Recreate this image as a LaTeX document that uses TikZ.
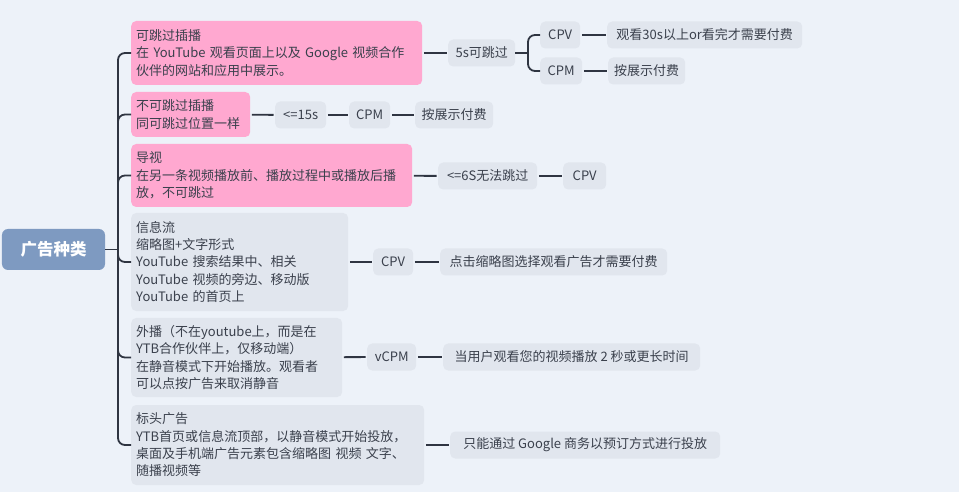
\documentclass[tikz,border=0pt]{standalone}
\usepackage{fontspec}
\setmainfont{Noto Sans CJK SC}

\definecolor{bgcol}{HTML}{EDF2F9}
\definecolor{pinkcol}{HTML}{FFA8D0}
\definecolor{graycol}{HTML}{E1E6EE}
\definecolor{rootcol}{HTML}{7E9AC1}
\definecolor{linecol}{HTML}{2F3542}
\definecolor{txtcol}{HTML}{3A404C}

\begin{document}
\begin{tikzpicture}[x=1bp, y=-1bp,
    every node/.style={font=\fontsize{13bp}{17.3bp}\selectfont, text=txtcol},
    rootbox/.style={fill=rootcol, rounded corners=6bp, minimum width=103bp, minimum height=41bp,
      font=\fontsize{16.5bp}{19bp}\selectfont\bfseries, text=white},
    pinkbox/.style={fill=pinkcol, rounded corners=5bp, anchor=west, align=left, inner xsep=5bp},
    graybox/.style={fill=graycol, rounded corners=5bp, anchor=west, align=left, inner xsep=5bp},
    leaf/.style={fill=graycol, rounded corners=5bp, anchor=west, minimum height=27bp,
      inner xsep=3bp, minimum width=#1},
    leaf/.default=40bp,
    link/.style={draw=linecol, line width=1.8bp, shorten <=1.5bp, shorten >=1.5bp},
    branch/.style={draw=linecol, line width=1.8bp, rounded corners=7bp},
  ]
      \fill[bgcol] (0, 0) rectangle (959, 492);
      \useasboundingbox (0, 0) rectangle (959, 492);

      \coordinate (hub) at (118, 249.5);
      \coordinate (skipHub) at (528, 53);

      \node[rootbox] (root) at (53.5, 249.5) {广告种类};

      \node[pinkbox, text width=281bp, minimum height=64bp] (skip) at (131, 53)
        {可跳过插播\\在 YouTube 观看页面上以及 Google 视频合作\\伙伴的网站和应用中展示。};
      \node[pinkbox, text width=109bp, minimum height=45bp] (noskip) at (131, 114.5)
        {不可跳过插播\\同可跳过位置一样};
      \node[pinkbox, text width=271bp, minimum height=63bp] (bumper) at (131, 175.5)
        {导视\\在另一条视频播放前、播放过程中或播放后播\\放，不可跳过};
      \node[graybox, text width=207bp, minimum height=98bp] (feed) at (131, 262)
        {信息流\\缩略图+文字形式\\YouTube 搜索结果中、相关\\YouTube 视频的旁边、移动版\\YouTube 的首页上};
      \node[graybox, text width=201bp, minimum height=79bp] (outstream) at (131, 357.5)
        {外播（不在youtube上，而是在\\YTB合作伙伴上，仅移动端）\\在静音模式下开始播放。观看者\\可以点按广告来取消静音};
      \node[graybox, text width=283bp, minimum height=80bp] (masthead) at (131, 445)
        {标头广告\\YTB首页或信息流顶部，以静音模式开始投放，\\桌面及手机端广告元素包含缩略图 视频 文字、\\随播视频等};

      \node[leaf=67bp] (skip5) at (448, 53) {5s可跳过};
      \node[leaf=40bp] (skipCPV) at (540, 35) {CPV};
      \node[leaf=42bp] (skipCPM) at (540, 71) {CPM};
      \node[leaf=195bp] (skipCPVpay) at (607, 35) {观看30s以上or看完才需要付费};
      \node[leaf=77bp] (skipCPMpay) at (608, 71) {按展示付费};

      \node[leaf=51bp] (noskip15) at (275, 115) {<=15s};
      \node[leaf=41bp] (noskipCPM) at (349, 115) {CPM};
      \node[leaf=78bp] (noskipPay) at (415, 115) {按展示付费};

      \node[leaf=99bp] (bumper6) at (438, 176) {<=6S无法跳过};
      \node[leaf=43bp] (bumperCPV) at (563, 176) {CPV};

      \node[leaf=40bp] (feedCPV) at (373, 262) {CPV};
      \node[leaf=227bp] (feedPay) at (440, 262) {点击缩略图选择观看广告才需要付费};

      \node[leaf=49bp] (outCPM) at (367, 357) {vCPM};
      \node[leaf=257bp] (outPay) at (443, 357) {当用户观看您的视频播放 2 秒或更长时间};

      \node[leaf=270bp] (mastPay) at (450, 445) {只能通过 Google 商务以预订方式进行投放};

      \draw[branch] (root.east) -- (hub);
      \foreach \kind in {skip, noskip, bumper, feed, outstream, masthead}
        \draw[branch] (hub) |- (\kind.west);

      \draw[link] (skip) -- (skip5);
      \draw[branch] (skip5.east) -- (skipHub);
      \draw[branch] (skipHub) |- (skipCPV.west);
      \draw[branch] (skipHub) |- (skipCPM.west);
      \draw[link] (skipCPV) -- (skipCPVpay);
      \draw[link] (skipCPM) -- (skipCPMpay);

      \draw[link] (noskip) -- (noskip15);
      \draw[link] (noskip15) -- (noskipCPM);
      \draw[link] (noskipCPM) -- (noskipPay);

      \draw[link] (bumper) -- (bumper6);
      \draw[link] (bumper6) -- (bumperCPV);

      \draw[link] (feed) -- (feedCPV);
      \draw[link] (feedCPV) -- (feedPay);

      \draw[link] (outstream) -- (outCPM);
      \draw[link] (outCPM) -- (outPay);

      \draw[link] (masthead) -- (mastPay);
    \end{tikzpicture}
\end{document}
